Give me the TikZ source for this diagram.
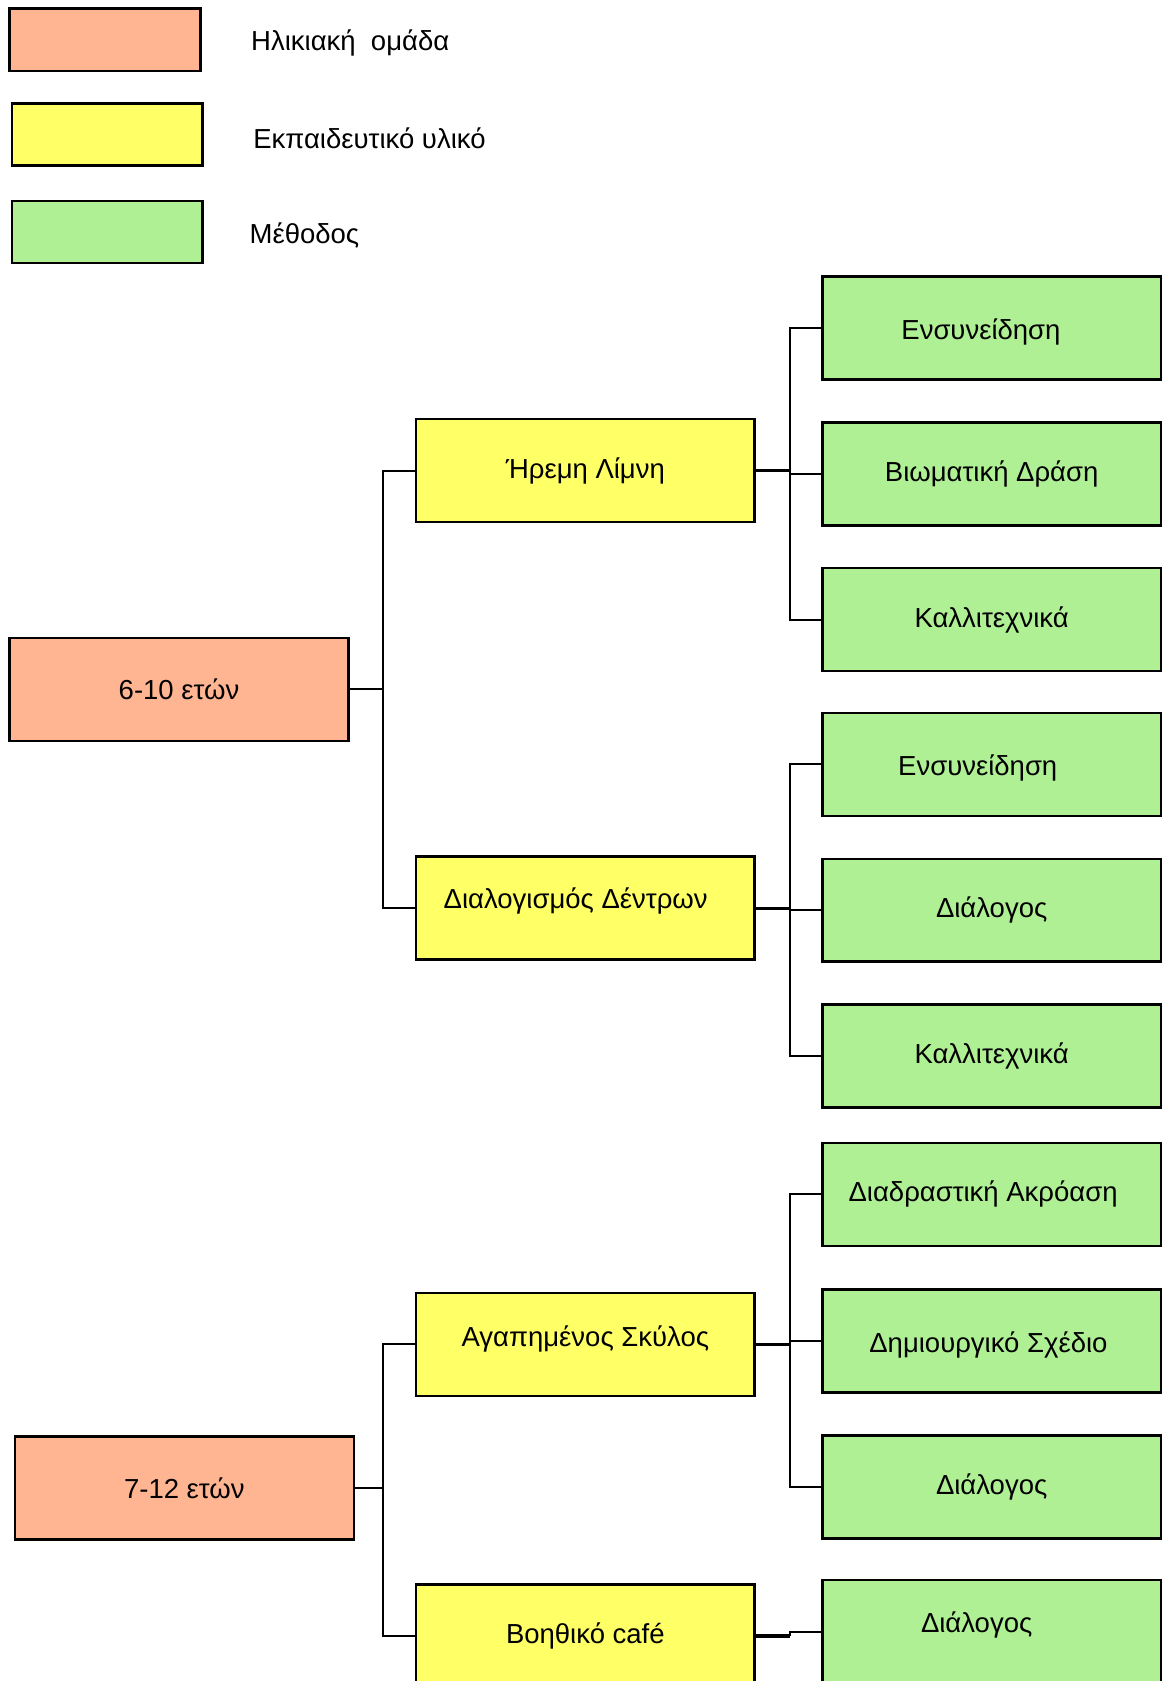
\documentclass[tikz,border=0pt]{standalone}
\usepackage{fontspec}
\setmainfont{Liberation Sans}
\usepackage{xcolor}
\usepackage{tikz}
\usetikzlibrary{positioning}
\definecolor{ageorange}{RGB}{255,181,145}
\definecolor{matyellow}{RGB}{255,255,102}
\definecolor{methgreen}{RGB}{176,240,149}
\tikzset{
    boxtext/.style={font=\fontsize{14.6}{17}\selectfont},
    box/.style={rectangle, draw=black, line width=1.3pt, minimum width=6.32cm, minimum height=1.92cm, align=center, boxtext},
    agebox/.style={box, fill=ageorange},
    matbox/.style={box, fill=matyellow},
    methbox/.style={box, fill=methgreen},
    keybox/.style={rectangle, draw=black, line width=1.3pt, minimum width=3.56cm, minimum height=1.16cm},
    keytext/.style={boxtext, yshift=-0.07cm},
    link/.style={line width=1pt},
    trunk/.style={line width=1.6pt}
}

\begin{document}
\begin{tikzpicture}[x=0.02cm, y=-0.02cm]
    \useasboundingbox (0,0) rectangle (1088,1568);
    \clip (0,0) rectangle (1088,1568);

    % Legend
    \node[keybox, fill=ageorange] (key1) at (98,37) {};
    \node[keybox, fill=matyellow] (key2) at (100,125.5) {};
    \node[keybox, fill=methgreen] (key3) at (100,216.5) {};
    \node[keytext, right=0.8cm of key1] (keyt1) {Ηλικιακή~~ομάδα};
    \node[keytext, right=0.8cm of key2] (keyt2) {Εκπαιδευτικό υλικό};
    \node[keytext, right=0.73cm of key3] (keyt3) {Μέθοδος};

    % 6-10
    \node[agebox] (age1) at (167,643) {6-10 ετών};
    \node[matbox] (mat1) at (546,439) {Ήρεμη Λίμνη};
    \node[matbox] (mat2) at (546,847) {};
    \node[boxtext] at ([xshift=-0.18cm, yshift=0.14cm]mat2.center) {Διαλογισμός Δέντρων};
    \node[methbox] (meth11) at (925,306) {};
    \node[boxtext] at ([xshift=-0.2cm, yshift=-0.08cm]meth11.center) {Ενσυνείδηση};
    \node[methbox] (meth12) at (925,442) {Βιωματική Δράση};
    \node[methbox] (meth13) at (925,578) {Καλλιτεχνικά};
    \node[methbox] (meth21) at (925,713) {};
    \node[boxtext] at ([xshift=-0.26cm, yshift=-0.06cm]meth21.center) {Ενσυνείδηση};
    \node[methbox] (meth22) at (925,849) {Διάλογος};
    \node[methbox] (meth23) at (925,985) {Καλλιτεχνικά};

    \draw[link] (age1.east) -- ++(31,0) coordinate (bus1);
    \draw[link] (mat1.west) -| (bus1) |- (mat2.west);
    \draw[trunk] (mat1.east) -- ++(32,0) coordinate (fork1);
    \draw[link] (meth11.west) -| (fork1) |- (meth13.west);
    \draw[link] (fork1) |- (meth12.west);
    \draw[trunk] (mat2.east) -- ++(32,0) coordinate (fork2);
    \draw[link] (meth21.west) -| (fork2) |- (meth23.west);
    \draw[link] (fork2) |- (meth22.west);

    % 7-12
    \node[agebox] (age2) at (172,1388) {7-12 ετών};
    \node[matbox] (mat3) at (546,1254) {};
    \node[boxtext] at ([yshift=0.1cm]mat3.center) {Αγαπημένος Σκύλος};
    \node[matbox] (mat4) at (546,1526) {Βοηθικό~café};
    \node[methbox] (meth31) at (925,1114) {};
    \node[boxtext] at ([xshift=-0.16cm]meth31.center) {Διαδραστική Ακρόαση};
    \node[methbox] (meth32) at (925,1251) {};
    \node[boxtext] at ([xshift=-0.06cm, yshift=-0.08cm]meth32.center) {Δημιουργικό Σχέδιο};
    \node[methbox] (meth33) at (925,1387) {Διάλογος};
    \node[methbox] (meth41) at (925,1522) {};
    \node[boxtext] at ([xshift=-0.28cm, yshift=0.12cm]meth41.center) {Διάλογος};

    \draw[link] (age2.east) -- ++(26,0) coordinate (bus2);
    \draw[link] (mat3.west) -| (bus2) |- (mat4.west);
    \draw[trunk] (mat3.east) -- ++(32,0) coordinate (fork3);
    \draw[link] (meth31.west) -| (fork3) |- (meth33.west);
    \draw[link] (fork3) |- (meth32.west);
    \draw[trunk] (mat4.east) -- ++(32,0) coordinate (fork4);
    \draw[link] (fork4) |- (meth41.west);
\end{tikzpicture}
\end{document}
